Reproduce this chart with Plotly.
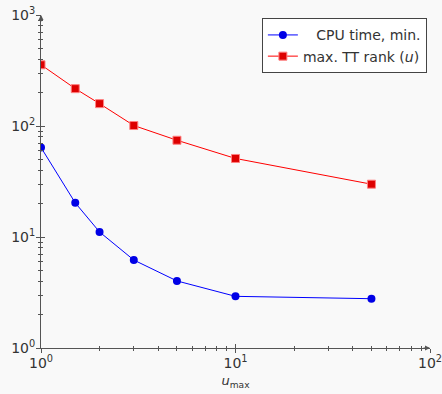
import plotly.graph_objects as go

u_max = [1, 1.5, 2, 3, 5, 10, 50]
cpu_time = [64, 20.3, 11.1, 6.2, 4.02, 2.92, 2.78]
tt_rank = [356, 217, 159, 101, 74.4, 51, 29.9]

x_major = [1, 10, 100]
x_ticktext = ["10<sup>0</sup>", "10<sup>1</sup>", "10<sup>2</sup>"]
y_major = [1, 10, 100, 1000]
y_ticktext = ["10<sup>0</sup>", "10<sup>1</sup>", "10<sup>2</sup>", "10<sup>3</sup>"]
mantissas = [1, 2, 3, 4, 5, 6, 7, 8, 9]

x_all = [m * 10 ** d for d in range(2) for m in mantissas] + [100]
y_all = [m * 10 ** d for d in range(3) for m in mantissas] + [1000]

axis_col = "#555555"
text_col = "#333333"
font_fam = "DejaVu Sans"

fig = go.Figure()
fig.add_trace(go.Scatter(
    x=u_max, y=cpu_time, mode="lines+markers", name="   CPU time, min.",
    line=dict(color="#0000ff", width=1),
    marker=dict(symbol="circle", size=8, color="#0000e6", line=dict(width=0)),
))
fig.add_trace(go.Scatter(
    x=u_max, y=tt_rank, mode="lines+markers", name="max. TT rank (<i>u</i>)",
    line=dict(color="#ff0000", width=1),
    marker=dict(symbol="square", size=8, color="#dd0000", line=dict(width=1, color="#ff8080")),
))
for k in (2, 3, 4):
    fig.add_trace(go.Scatter(x=[1], y=[1], xaxis=f"x{k}", yaxis=f"y{k}", mode="markers",
                             marker=dict(opacity=0), showlegend=False, hoverinfo="skip"))

tickfont = dict(family=font_fam, size=14, color=text_col)

def overlay(rng, vals, ticks, ln, base, side):
    return dict(type="log", range=rng, overlaying=base, side=side, showgrid=False,
                zeroline=False, showline=False, ticks=ticks, ticklen=ln, tickwidth=1,
                tickcolor=axis_col, tickvals=vals, showticklabels=False, automargin=False)

fig.update_layout(
    width=442, height=394,
    margin=dict(l=41, r=12, t=15, b=46, autoexpand=False),
    paper_bgcolor="#f9f9f9", plot_bgcolor="#f9f9f9",
    font=dict(family=font_fam, color=text_col),
    showlegend=True,
    legend=dict(x=0.992, y=0.99, xanchor="right", yanchor="top",
                bgcolor="#ffffff", bordercolor="#444444", borderwidth=1,
                font=dict(family=font_fam, size=14, color=text_col),
                tracegroupgap=0, itemwidth=30),
    xaxis=dict(type="log", range=[0, 2], showgrid=False, zeroline=False, showline=True,
               linecolor=axis_col, linewidth=1, ticks="outside", ticklen=2, tickwidth=1,
               tickcolor=axis_col, tickvals=x_all, automargin=False,
               ticklabeloverflow="allow",
               ticktext=[x_ticktext[x_major.index(v)] if v in x_major else "" for v in x_all],
               tickfont=tickfont,
               title=dict(text="<i>u</i><sub>max</sub>", font=dict(family=font_fam, size=13, color=text_col), standoff=6)),
    yaxis=dict(type="log", range=[0, 3], showgrid=False, zeroline=False, showline=True,
               linecolor=axis_col, linewidth=1, ticks="outside", ticklen=2, tickwidth=1,
               tickcolor=axis_col, tickvals=y_all, automargin=False,
               ticklabeloverflow="allow",
               ticktext=[y_ticktext[y_major.index(v)] if v in y_major else "" for v in y_all],
               tickfont=tickfont),
    xaxis2=overlay([0, 2], x_all, "inside", 2, "x", "bottom"),
    yaxis2=overlay([0, 3], y_all, "inside", 2, "y", "left"),
    xaxis3=overlay([0, 2], x_major, "outside", 4, "x", "bottom"),
    yaxis3=overlay([0, 3], y_major, "outside", 4, "y", "left"),
    xaxis4=overlay([0, 2], x_major, "inside", 4, "x", "bottom"),
    yaxis4=overlay([0, 3], y_major, "inside", 4, "y", "left"),
)

# axis arrowheads
fig.add_annotation(x=2, y=0, xref="x", yref="y", ax=-8, ay=0, axref="pixel", ayref="pixel",
                   showarrow=True, arrowhead=2, arrowsize=1, arrowwidth=1, arrowcolor=axis_col, text="")
fig.add_annotation(x=0, y=3, xref="x", yref="y", ax=0, ay=8, axref="pixel", ayref="pixel",
                   showarrow=True, arrowhead=2, arrowsize=1, arrowwidth=1, arrowcolor=axis_col, text="")

fig.write_html("out.html")
